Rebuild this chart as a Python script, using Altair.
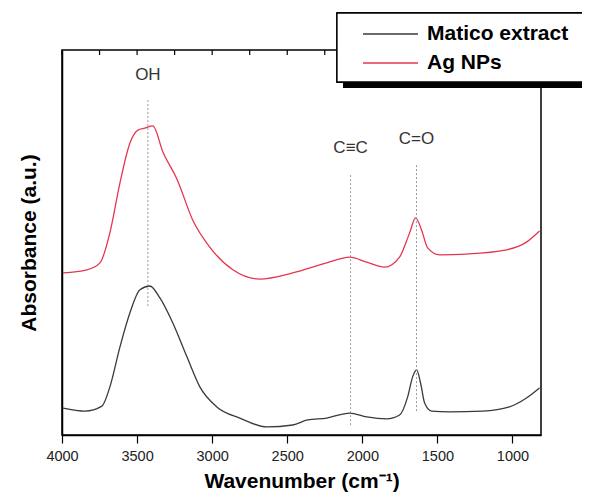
import altair as alt
import pandas as pd

# Matico extract (black)
matico_wn = [3993, 3847, 3734, 3681, 3614, 3548, 3481, 3415, 3348, 3262, 3168, 3082, 2969,
             2816, 2636, 2463, 2364, 2237, 2084, 1971, 1838, 1752, 1698, 1665, 1638, 1612,
             1585, 1539, 1419, 1199, 1020, 907, 820]
matico_abs = [0.070, 0.062, 0.075, 0.125, 0.229, 0.317, 0.377, 0.387, 0.356, 0.291, 0.203,
              0.125, 0.073, 0.044, 0.021, 0.026, 0.039, 0.044, 0.057, 0.047, 0.042, 0.052,
              0.099, 0.151, 0.169, 0.135, 0.083, 0.062, 0.060, 0.062, 0.073, 0.096, 0.122]

# Ag NPs (red)
ag_wn = [3993, 3834, 3747, 3681, 3614, 3548, 3494, 3448, 3395, 3328, 3235, 3129, 3016, 2862,
         2683, 2463, 2237, 2084, 1971, 1851, 1752, 1685, 1645, 1605, 1565, 1486, 1306, 1040,
         907, 820]
ag_abs = [0.421, 0.429, 0.447, 0.525, 0.655, 0.758, 0.792, 0.797, 0.803, 0.735, 0.665, 0.558,
          0.488, 0.429, 0.405, 0.421, 0.447, 0.462, 0.449, 0.436, 0.462, 0.525, 0.564, 0.532,
          0.486, 0.468, 0.470, 0.481, 0.501, 0.530]

series_names = ["Matico extract", "Ag NPs"]
series_colors = ["#3a3a3a", "#e5364f"]

# Peak markers
peak_labels = ["OH", "C\u2261C", "C=O"]
peak_wn = [3428, 2078, 1639]
peak_label_y = [0.935, 0.745, 0.769]
peak_line_top = [0.870, 0.675, 0.701]
peak_line_bottom = [0.332, 0.021, 0.057]

x_ticks = [4000, 3750, 3500, 3250, 3000, 2750, 2500, 2250, 2000, 1750, 1500, 1250, 1000]

curves = pd.concat([
    pd.DataFrame({"wn": matico_wn, "abs": matico_abs, "series": series_names[0], "order": range(len(matico_wn))}),
    pd.DataFrame({"wn": ag_wn, "abs": ag_abs, "series": series_names[1], "order": range(len(ag_wn))}),
])
peaks = pd.DataFrame({"label": peak_labels, "wn": peak_wn, "ly": peak_label_y,
                      "top": peak_line_top, "bottom": peak_line_bottom})
ticks_df = pd.DataFrame({"tick": x_ticks})

FONT = "Liberation Sans"

xscale = alt.Scale(domain=[4000, 810], nice=False, zero=False)
yscale = alt.Scale(domain=[0, 1], nice=False, zero=False)

x_axis = alt.Axis(
    title="Wavenumber (cm\u207b\u00b9)", values=x_ticks, format="d",
    labelExpr="datum.value % 500 == 0 ? datum.label : ''",
    tickSize={"condition": {"test": "datum.value % 500 == 0", "value": 8}, "value": 5},
    grid=False, labelFont=FONT, labelFontSize=14.5, labelColor="#222", labelPadding=6,
    titleFont=FONT, titleFontSize=21, titleFontWeight="bold", titlePadding=8,
    domainColor="black", tickColor="black", domainWidth=1.5, tickWidth=1.2,
    labelFlush=False,
)
y_axis = alt.Axis(title="Absorbance (a.u.)", labels=False, ticks=False, grid=False,
                  titleFont=FONT, titleFontSize=21, titleFontWeight="bold", titlePadding=23,
                  domainColor="black", domainWidth=1.5)

shadow = alt.Chart(peaks).mark_rect(color="black").encode(
    x=alt.value(281), x2=alt.value(570), y=alt.value(-31), y2=alt.value(38))
box = alt.Chart(peaks).mark_rect(fill="white", stroke="black", strokeWidth=1.3).encode(
    x=alt.value(275), x2=alt.value(565), y=alt.value(-37), y2=alt.value(32))

lines = alt.Chart(curves).mark_line(strokeWidth=1.3, interpolate="monotone").encode(
    x=alt.X("wn:Q", scale=xscale, axis=x_axis),
    y=alt.Y("abs:Q", scale=yscale, axis=y_axis),
    color=alt.Color("series:N", scale=alt.Scale(domain=series_names, range=series_colors),
                    legend=alt.Legend(title=None, orient="none", legendX=317.5, legendY=-27,
                                      symbolType="M-2.75,0H2.75", symbolSize=400,
                                      symbolStrokeWidth=1.3, symbolFillColor="transparent",
                                      labelFont=FONT, labelFontSize=21, labelFontWeight="bold",
                                      labelColor="black", labelOffset=25.5, rowPadding=8,
                                      padding=0)),
    detail="series:N",
    order="order:Q",
)

top_ticks = alt.Chart(ticks_df).mark_rule(color="black", strokeWidth=1.2).encode(
    x=alt.X("tick:Q", scale=xscale), y=alt.value(0), y2=alt.value(5))

vlines = alt.Chart(peaks).mark_rule(color="#9a9a9a", strokeDash=[2, 2], strokeWidth=1).encode(
    x=alt.X("wn:Q", scale=xscale),
    y=alt.Y("top:Q", scale=yscale), y2="bottom:Q")

texts = alt.Chart(peaks).mark_text(font=FONT, fontSize=17, color="#333").encode(
    x=alt.X("wn:Q", scale=xscale),
    y=alt.Y("ly:Q", scale=yscale), text="label:N")

chart = alt.layer(lines, top_ticks, vlines, texts, shadow, box).properties(
    width=479, height=385,
    autosize=alt.AutoSizeParams(type="none"),
    padding={"left": 54, "top": 42, "right": 41, "bottom": 58},
).configure_view(stroke="black", strokeWidth=1.5)

chart.save("out.html", embed_options={"renderer": "svg", "actions": False})
